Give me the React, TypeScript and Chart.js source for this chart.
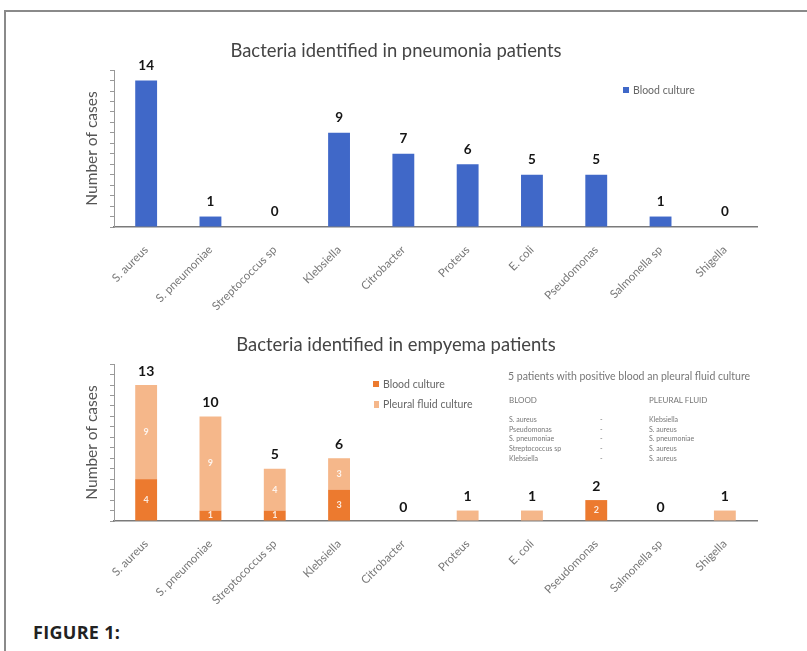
import React, { useEffect, useRef } from "react";
import { Chart, registerables } from "chart.js";

Chart.register(...registerables);

// ---------- data ----------
const categories = [
  "S. aureus",
  "S. pneumoniae",
  "Streptococcus sp",
  "Klebsiella",
  "Citrobacter",
  "Proteus",
  "E. coli",
  "Pseudomonas",
  "Salmonella sp",
  "Shigella",
];
const pneumoniaBlood = [14, 1, 0, 9, 7, 6, 5, 5, 1, 0];
const empyemaBlood = [4, 1, 1, 3, 0, 0, 0, 2, 0, 0];
const empyemaPleural = [9, 9, 4, 3, 0, 1, 1, 0, 0, 1];
const yMax = 15;
const yStep = 1;

const topTitle = "Bacteria identified in pneumonia patients";
const bottomTitle = "Bacteria identified in empyema patients";
const yTitle = "Number of cases";
const legendBlood = "Blood culture";
const legendPleural = "Pleural fluid culture";
const noteHeading = "5 patients with positive blood an pleural fluid culture";
const noteColBlood = "BLOOD";
const noteColPleural = "PLEURAL FLUID";
const noteBloodCol = ["S. aureus", "Pseudomonas", "S. pneumoniae", "Streptococcus sp", "Klebsiella"];
const notePleuralCol = ["Klebsiella", "S. aureus", "S. pneumoniae", "S. aureus", "S. aureus"];
const figureLabel = "FIGURE 1:";

// ---------- styles ----------
const BLUE = "#4068c8";
const ORANGE = "#ec7a2f";
const LIGHT_ORANGE = "#f5b78a";
const FONT = "Lato, 'Open Sans', sans-serif";

const valueLabels = {
  id: "valueLabels",
  afterDatasetsDraw(chart: any, _args: any, opts: any) {
    const { ctx } = chart;
    const yScale = chart.scales.y;
    const n = chart.data.labels.length;
    ctx.save();
    ctx.textAlign = "center";
    ctx.textBaseline = "middle";
    if (opts.inner) {
      ctx.font = `bold 9px ${FONT}`;
      ctx.fillStyle = "rgba(255,255,255,0.85)";
      chart.data.datasets.forEach((ds: any, di: number) => {
        const meta = chart.getDatasetMeta(di);
        meta.data.forEach((el: any, i: number) => {
          const v = ds.data[i];
          let total = 0;
          chart.data.datasets.forEach((d: any) => (total += d.data[i]));
          if (!v || total <= 1) return;
          const p = el.getProps(["x", "y", "base"], true);
          ctx.fillText(String(v), p.x, (p.y + p.base) / 2);
        });
      });
    }
    ctx.font = `bold ${opts.size}px ${FONT}`;
    ctx.fillStyle = "#151515";
    for (let i = 0; i < n; i++) {
      let total = 0;
      chart.data.datasets.forEach((d: any) => (total += d.data[i]));
      const el = chart.getDatasetMeta(0).data[i];
      const x = el.x;
      const y = yScale.getPixelForValue(total) - opts.offset;
      ctx.fillText(String(total), x, y);
    }
    ctx.restore();
  },
};

function makeOptions(title: string, padTop: number, xHeight: number, stacked: boolean, labelSize: number, labelOffset: number) {
  return {
    animation: false,
    responsive: false,
    maintainAspectRatio: false,
    layout: { padding: { left: 35, right: 50, top: 0, bottom: 0 } },
    plugins: {
      legend: { display: false },
      tooltip: { enabled: false },
      title: {
        display: true,
        text: title,
        color: "#444",
        font: { family: FONT, size: 18.4, weight: "normal" },
        padding: { top: padTop, bottom: 8 },
      },
      valueLabels: { size: labelSize, offset: labelOffset, inner: stacked },
    },
    scales: {
      x: {
        stacked,
        grid: { display: false },
        border: { display: true, color: "#7a7a7a", width: 1.5 },
        ticks: {
          color: "#777",
          font: { family: FONT, size: 11.5 },
          minRotation: 45,
          maxRotation: 45,
          autoSkip: false,
          padding: 8,
        },
        afterFit: (s: any) => {
          s.height = xHeight;
        },
      },
      y: {
        stacked,
        min: 0,
        max: yMax,
        ticks: { display: false, stepSize: yStep },
        grid: { drawOnChartArea: false, drawTicks: true, tickLength: 4, color: "#999" },
        border: { display: true, color: "#999" },
        title: {
          display: true,
          text: yTitle,
          color: "#555",
          font: { family: FONT, size: 15.5 },
          padding: { top: 48, bottom: 0 },
        },
        afterFit: (s: any) => {
          s.width = 79;
        },
      },
    },
  };
}

function TopChart() {
  const ref = useRef<HTMLCanvasElement>(null);
  useEffect(() => {
    const chart = new Chart(ref.current as HTMLCanvasElement, {
      type: "bar",
      data: {
        labels: categories,
        datasets: [
          {
            label: legendBlood,
            data: pneumoniaBlood,
            backgroundColor: BLUE,
            barPercentage: 0.34,
            categoryPercentage: 1,
          },
        ],
      },
      options: makeOptions(topTitle, 40, 93, false, 13.5, 15) as any,
      plugins: [valueLabels as any],
    });
    return () => chart.destroy();
  }, []);
  return <canvas ref={ref} width={807} height={320} style={{ position: "absolute", left: 0, top: 0 }} />;
}

function BottomChart() {
  const ref = useRef<HTMLCanvasElement>(null);
  useEffect(() => {
    const chart = new Chart(ref.current as HTMLCanvasElement, {
      type: "bar",
      data: {
        labels: categories,
        datasets: [
          {
            label: legendBlood,
            data: empyemaBlood,
            backgroundColor: ORANGE,
            barPercentage: 0.34,
            categoryPercentage: 1,
          },
          {
            label: legendPleural,
            data: empyemaPleural,
            backgroundColor: LIGHT_ORANGE,
            barPercentage: 0.34,
            categoryPercentage: 1,
          },
        ],
      },
      options: makeOptions(bottomTitle, 34, 99, true, 14, 14) as any,
      plugins: [valueLabels as any],
    });
    return () => chart.destroy();
  }, []);
  return <canvas ref={ref} width={807} height={320} style={{ position: "absolute", left: 0, top: 300 }} />;
}

const legendText: React.CSSProperties = {
  position: "absolute",
  fontFamily: FONT,
  fontSize: 10.5,
  color: "#666",
  whiteSpace: "nowrap",
  lineHeight: "12px",
};

const noteText: React.CSSProperties = {
  position: "absolute",
  fontFamily: FONT,
  fontSize: 7,
  color: "#777",
  whiteSpace: "nowrap",
  lineHeight: "9.7px",
};

export default function App() {
  return (
    <div
      style={{
        position: "absolute",
        left: 0,
        top: 0,
        width: 807,
        height: 651,
        background: "#fff",
        overflow: "hidden",
      }}
    >
      {/* frame */}
      <div style={{ position: "absolute", left: 5, top: 10, width: 802, height: 2, background: "#8a8a8a" }} />
      <div style={{ position: "absolute", left: 4, top: 10, width: 2, height: 641, background: "#8a8a8a" }} />

      <TopChart />
      <BottomChart />

      {/* top legend */}
      <div style={{ position: "absolute", left: 623, top: 87, width: 6, height: 6, background: BLUE }} />
      <div style={{ ...legendText, left: 633, top: 84 }}>{legendBlood}</div>

      {/* bottom legend */}
      <div style={{ position: "absolute", left: 373, top: 381, width: 6, height: 6, background: ORANGE }} />
      <div style={{ ...legendText, left: 383, top: 378 }}>{legendBlood}</div>
      <div style={{ position: "absolute", left: 374, top: 401, width: 5, height: 7, background: LIGHT_ORANGE }} />
      <div style={{ ...legendText, left: 383, top: 398 }}>{legendPleural}</div>

      {/* note */}
      <div style={{ ...noteText, left: 508, top: 370, fontSize: 10.5, lineHeight: "12px" }}>{noteHeading}</div>
      <div style={{ ...noteText, left: 509, top: 396, fontSize: 8 }}>{noteColBlood}</div>
      <div style={{ ...noteText, left: 649, top: 396, fontSize: 8 }}>{noteColPleural}</div>
      {noteBloodCol.map((t, i) => (
        <React.Fragment key={i}>
          <div style={{ ...noteText, left: 509, top: 415 + i * 9.7 }}>{t}</div>
          <div style={{ ...noteText, left: 600, top: 415 + i * 9.7 }}>-</div>
          <div style={{ ...noteText, left: 649, top: 415 + i * 9.7 }}>{notePleuralCol[i]}</div>
        </React.Fragment>
      ))}

      <div
        style={{
          position: "absolute",
          left: 33,
          top: 621,
          fontFamily: "'Open Sans', sans-serif",
          fontWeight: 700,
          fontSize: 18,
          letterSpacing: 0.3,
          color: "#222",
          lineHeight: "22px",
        }}
      >
        {figureLabel}
      </div>
    </div>
  );
}
